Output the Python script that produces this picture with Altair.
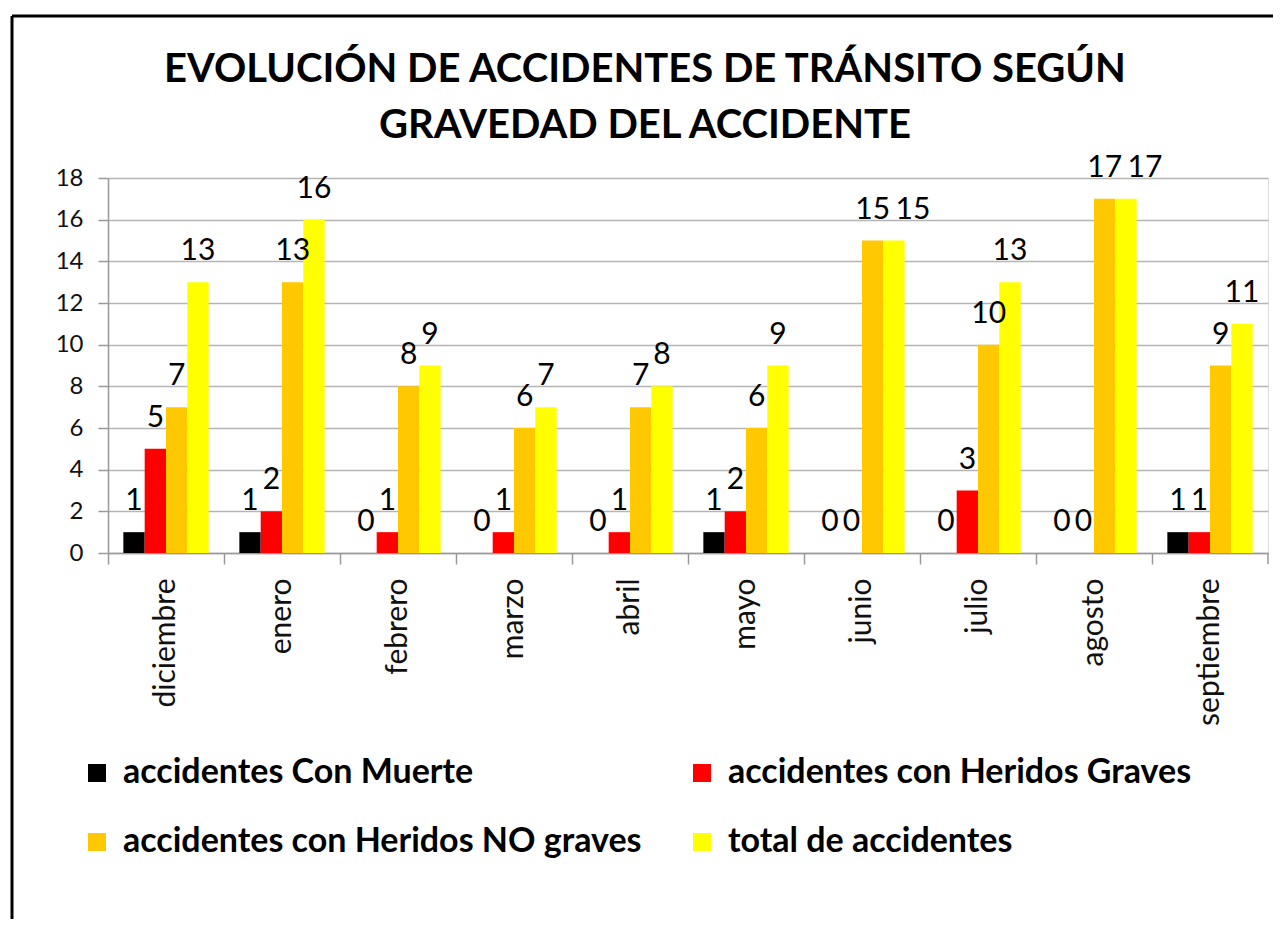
import altair as alt
import pandas as pd

months = ["diciembre", "enero", "febrero", "marzo", "abril", "mayo",
          "junio", "julio", "agosto", "septiembre"]
series = ["accidentes Con Muerte", "accidentes con Heridos Graves",
          "accidentes con Heridos NO graves", "total de accidentes"]
con_muerte = [1, 1, 0, 0, 0, 1, 0, 0, 0, 1]
heridos_graves = [5, 2, 1, 1, 1, 2, 0, 3, 0, 1]
heridos_no_graves = [7, 13, 8, 6, 7, 6, 15, 10, 17, 9]
total_accidentes = [13, 16, 9, 7, 8, 9, 15, 13, 17, 11]
colors = ["#000000", "#FF0000", "#FFC800", "#FFFF00"]
y_ticks = [0, 2, 4, 6, 8, 10, 12, 14, 16, 18]
title_lines = ["EVOLUCIÓN DE ACCIDENTES DE TRÁNSITO SEGÚN", "GRAVEDAD DEL ACCIDENTE"]

rows = []
for s, vals in zip(series, [con_muerte, heridos_graves, heridos_no_graves, total_accidentes]):
    for i, (m, v) in enumerate(zip(months, vals)):
        # a total label that equals the "NO graves" label beside it is nudged aside
        clash = (s == series[3]) and (v == heridos_no_graves[i])
        rows.append({"mes": m, "serie": s, "valor": v, "choca": clash})
df = pd.DataFrame(rows)

FONT = "Lato"
W, H = 1160, 375

x_enc = alt.X("mes:N", sort=months,
              scale=alt.Scale(paddingInner=0, paddingOuter=0),
              axis=alt.Axis(title=None, labelAngle=-90, labelFontSize=30, labelFont=FONT,
                            labelColor="#111", labelPadding=14, bandPosition=0,
                            tickSize=11, tickColor="#999", domainColor="#999",
                            tickWidth=1.5, domainWidth=1.5, grid=False))
xoff = alt.XOffset("serie:N", sort=series, scale=alt.Scale(paddingInner=0, paddingOuter=0.72))
y_enc = alt.Y("valor:Q", scale=alt.Scale(domain=[0, 18], nice=False),
              axis=alt.Axis(title=None, values=y_ticks, labelFontSize=24, labelFont=FONT,
                            labelColor="#111", labelPadding=15, tickSize=10,
                            tickColor="#999", domainColor="#999", gridColor="#b5b5b5",
                            tickWidth=1.5, domainWidth=1.5, gridWidth=1.5))

bars = alt.Chart(df).mark_bar().encode(
    x=x_enc, xOffset=xoff, y=y_enc,
    color=alt.Color("serie:N", sort=series,
                    scale=alt.Scale(domain=series, range=colors),
                    legend=alt.Legend(title=None, orient="none", legendX=-28, legendY=578,
                                      direction="horizontal",
                                      columns=2, columnPadding=43, rowPadding=35,
                                      symbolType="square", symbolSize=324,
                                      symbolStrokeWidth=0, labelFontSize=34,
                                      labelFont=FONT, labelFontWeight="bold",
                                      labelColor="#000", labelOffset=9, labelLimit=900))
)

label_base = alt.Chart(df)
labels = label_base.transform_filter("!datum.choca").mark_text(
    baseline="alphabetic", dy=-22, fontSize=30, font=FONT, color="#000").encode(
    x=alt.X("mes:N", sort=months), xOffset=alt.XOffset("serie:N", sort=series),
    y="valor:Q", text="valor:Q"
)
labels_nudged = label_base.transform_filter("datum.choca").mark_text(
    baseline="alphabetic", dy=-22, dx=19, fontSize=30, font=FONT, color="#000").encode(
    x=alt.X("mes:N", sort=months), xOffset=alt.XOffset("serie:N", sort=series),
    y="valor:Q", text="valor:Q"
)

one = pd.DataFrame({"k": [0]})
left_line = alt.Chart(one).mark_rule(color="#000", strokeWidth=3).encode(
    x=alt.value(-96), y=alt.value(-162), y2=alt.value(H + 370))
top_line = alt.Chart(one).mark_rule(color="#000", strokeWidth=3).encode(
    x=alt.value(-96), x2=alt.value(W + 10), y=alt.value(-162))
end_tick = alt.Chart(one).mark_rule(color="#999", strokeWidth=1.5).encode(
    x=alt.value(W), y=alt.value(H), y2=alt.value(H + 11))

chart = alt.layer(bars, labels, labels_nudged, left_line, top_line, end_tick).properties(
    width=W, height=H,
    title=alt.TitleParams(text=title_lines, fontSize=40, font=FONT, fontWeight="bold",
                          color="#000", anchor="middle", lineHeight=56, offset=-131,
                          baseline="top", frame="bounds"),
    autosize=alt.AutoSizeParams(type="none"),
    padding={"left": 100, "top": 170, "right": 5, "bottom": 366},
).configure_view(stroke=None).configure(background="white")

chart.save("out.html", embed_options={"renderer": "svg", "actions": False})
